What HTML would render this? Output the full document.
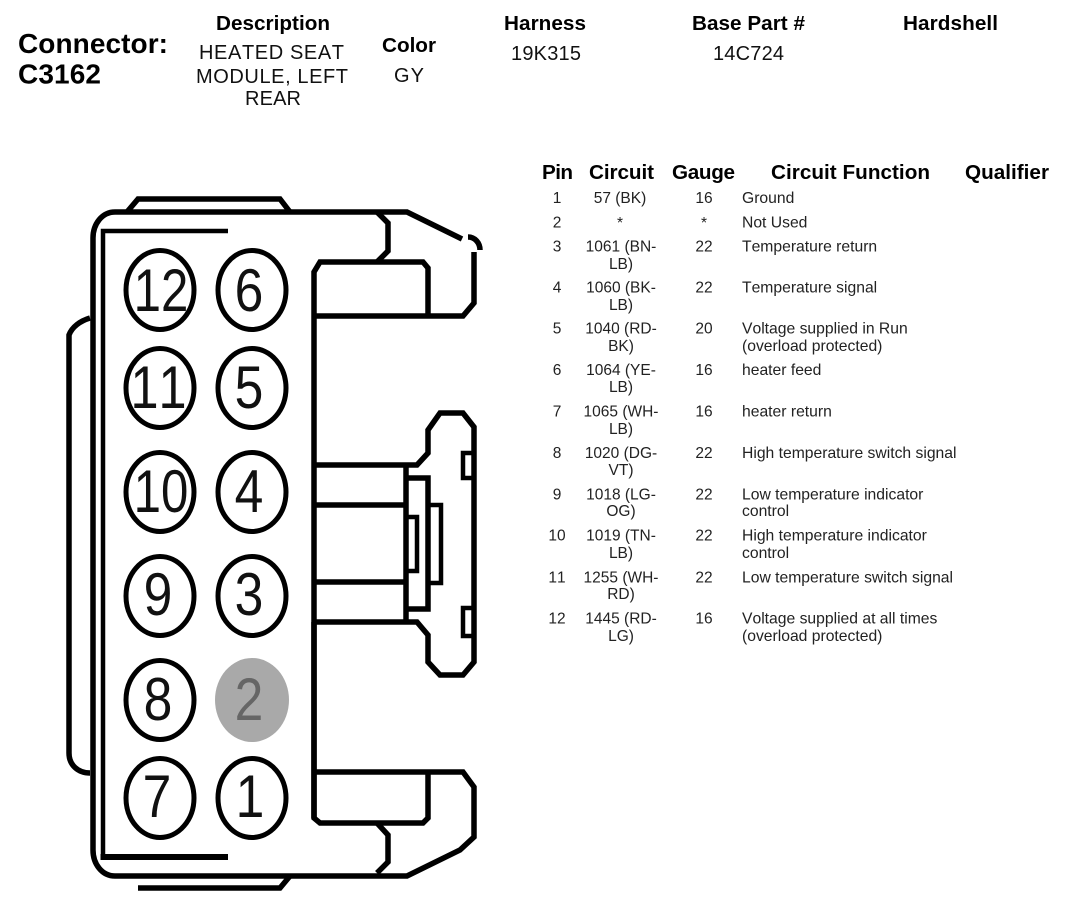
<!DOCTYPE html>
<html><head><meta charset="utf-8"><style>
html,body{margin:0;padding:0;background:#fff;width:1066px;height:908px;overflow:hidden}
svg{display:block}
text{font-family:"Liberation Sans",Arial,sans-serif;fill:#111;font-kerning:none}
.b{font-weight:bold;font-size:20.7px;fill:#000}
.h{font-size:20px}
.t{font-size:15.5px;fill:#222}
.f{font-size:15.7px;fill:#222}
.m{text-anchor:middle}
.d{font-size:60px;fill:#111;text-anchor:middle}
.l{fill:none;stroke:#000;stroke-width:5.5;stroke-linejoin:miter}
</style></head><body>
<svg width="1066" height="908" viewBox="0 0 1066 908" xmlns="http://www.w3.org/2000/svg">
<rect width="1066" height="908" fill="#fff"/>
<text class="b" x="18" y="53" style="font-size:28px" textLength="150">Connector:</text>
<text class="b" x="18" y="83.500" style="font-size:28px" textLength="83">C3162</text>
<text class="b" x="216" y="30" textLength="114">Description</text>
<text class="b" x="382" y="52" textLength="54">Color</text>
<text class="b" x="504" y="30" textLength="82">Harness</text>
<text class="b" x="692" y="30" textLength="113">Base Part #</text>
<text class="b" x="903" y="30" textLength="95">Hardshell</text>
<text class="h" x="199" y="59" textLength="145">HEATED SEAT</text>
<text class="h" x="196" y="83" textLength="152">MODULE, LEFT</text>
<text class="h" x="245" y="105" textLength="56">REAR</text>
<text class="h" x="394" y="82" textLength="30">GY</text>
<text class="h" x="511" y="60" textLength="70">19K315</text>
<text class="h" x="713" y="60" textLength="71">14C724</text>

<text class="b" x="542" y="179" textLength="31">Pin</text>
<text class="b" x="589" y="179" textLength="65">Circuit</text>
<text class="b" x="672" y="179" textLength="63">Gauge</text>
<text class="b" x="771" y="179" textLength="159">Circuit Function</text>
<text class="b" x="965" y="179" textLength="84">Qualifier</text>

<g>
<text class="t m" x="557" y="203">1</text><text class="t m" x="620" y="203">57 (BK)</text><text class="t m" x="704" y="203">16</text><text class="f" x="742" y="203">Ground</text>
<text class="t m" x="557" y="227.500">2</text><text class="t m" x="620" y="228">*</text><text class="t m" x="704" y="228">*</text><text class="f" x="742" y="227.500">Not Used</text>
<text class="t m" x="557" y="251.500">3</text><text class="t m" x="621" y="251.500">1061 (BN-</text><text class="t m" x="621" y="269">LB)</text><text class="t m" x="704" y="251.500">22</text><text class="f" x="742" y="251.500">Temperature return</text>
<text class="t m" x="557" y="292.500">4</text><text class="t m" x="621" y="292.500">1060 (BK-</text><text class="t m" x="621" y="310">LB)</text><text class="t m" x="704" y="292.500">22</text><text class="f" x="742" y="292.500">Temperature signal</text>
<text class="t m" x="557" y="333.500">5</text><text class="t m" x="621" y="333.500">1040 (RD-</text><text class="t m" x="621" y="351">BK)</text><text class="t m" x="704" y="333.500">20</text><text class="f" x="742" y="333.500">Voltage supplied in Run</text><text class="f" x="742" y="351">(overload protected)</text>
<text class="t m" x="557" y="375">6</text><text class="t m" x="621" y="375">1064 (YE-</text><text class="t m" x="621" y="392">LB)</text><text class="t m" x="704" y="375">16</text><text class="f" x="742" y="375">heater feed</text>
<text class="t m" x="557" y="416.500">7</text><text class="t m" x="621" y="416.500">1065 (WH-</text><text class="t m" x="621" y="434">LB)</text><text class="t m" x="704" y="416.500">16</text><text class="f" x="742" y="416.500">heater return</text>
<text class="t m" x="557" y="458">8</text><text class="t m" x="621" y="458">1020 (DG-</text><text class="t m" x="621" y="475">VT)</text><text class="t m" x="704" y="458">22</text><text class="f" x="742" y="458">High temperature switch signal</text>
<text class="t m" x="557" y="499.500">9</text><text class="t m" x="621" y="499.500">1018 (LG-</text><text class="t m" x="621" y="516">OG)</text><text class="t m" x="704" y="499.500">22</text><text class="f" x="742" y="499.500">Low temperature indicator</text><text class="f" x="742" y="516">control</text>
<text class="t m" x="557" y="540.500">10</text><text class="t m" x="621" y="540.500">1019 (TN-</text><text class="t m" x="621" y="558">LB)</text><text class="t m" x="704" y="540.500">22</text><text class="f" x="742" y="540.500">High temperature indicator</text><text class="f" x="742" y="558">control</text>
<text class="t m" x="557" y="582.500">11</text><text class="t m" x="621" y="582.500">1255 (WH-</text><text class="t m" x="621" y="599">RD)</text><text class="t m" x="704" y="582.500">22</text><text class="f" x="742" y="582.500">Low temperature switch signal</text>
<text class="t m" x="557" y="623.500">12</text><text class="t m" x="621" y="623.500">1445 (RD-</text><text class="t m" x="621" y="641">LG)</text><text class="t m" x="704" y="623.500">16</text><text class="f" x="742" y="623.500">Voltage supplied at all times</text><text class="f" x="742" y="641">(overload protected)</text>
</g>

<!-- connector outline -->
<path class="l" d="M127 212L138 199H280L290 212"/>
<path class="l" d="M462 239L407 212H115C102 212 93 224 93 238V850C93 864 102 876 115 876H407L460 850L474 837V787L463 772H314"/>
<path class="l" d="M468 237C475 237 480 243 480 250"/>
<path class="l" d="M474 252V303L463 316H314"/>
<path class="l" d="M377 212L388 223V251L377 262"/>
<path class="l" d="M314 818V272L320 262H423L428 268V316"/>
<path class="l" d="M314 622V818L320 823H423L428 818V772"/>
<path class="l" d="M377 823L388 835V862L377 873"/>
<path class="l" style="stroke-width:4.5" d="M228 231H103V857"/>
<path class="l" style="stroke-width:6" d="M100.500 857H228"/>
<path class="l" d="M90 318C80 321 72 327 69 335V753C69 765 78 773 90 773"/>
<path class="l" d="M290 876L280 888H138"/>
<!-- right latch -->
<path class="l" d="M314 465H417L428 453V430L440 413H463L474 427V662L463 675H440L428 662V635L417 622H314"/>
<path class="l" d="M314 505H406M314 582H406M406 465V622"/>
<path class="l" d="M406 478H428V609H406"/>
<path class="l" style="stroke-width:4.5" d="M406 517H417V571H406"/>
<path class="l" style="stroke-width:4.5" d="M428 505H441V583H428"/>
<path class="l" style="stroke-width:4.5" d="M474 453H463V478H474M474 608H463V636H474"/>

<!-- pins -->
<g fill="#fff" stroke="#000" stroke-width="5">
<ellipse cx="160" cy="290" rx="34" ry="39.5"/><ellipse cx="252" cy="290" rx="34" ry="39.5"/>
<ellipse cx="160" cy="388" rx="34" ry="39.5"/><ellipse cx="252" cy="388" rx="34" ry="39.5"/>
<ellipse cx="160" cy="492" rx="34" ry="39.5"/><ellipse cx="252" cy="492" rx="34" ry="39.5"/>
<ellipse cx="160" cy="596" rx="34" ry="39.5"/><ellipse cx="252" cy="596" rx="34" ry="39.5"/>
<ellipse cx="160" cy="700" rx="34" ry="39.5"/>
<ellipse cx="160" cy="798" rx="34" ry="39.5"/><ellipse cx="252" cy="798" rx="34" ry="39.5"/>
</g>
<ellipse cx="252" cy="700" rx="37" ry="42" fill="#a9a9a9"/>
<text class="d" transform="translate(161 311) scale(.82 1)">12</text>
<text class="d" transform="translate(249 311) scale(.86 1)">6</text>
<text class="d" transform="translate(158.500 408) scale(.84 1)">11</text>
<text class="d" transform="translate(249 408) scale(.86 1)">5</text>
<text class="d" transform="translate(161 512) scale(.82 1)">10</text>
<text class="d" transform="translate(249 512) scale(.86 1)">4</text>
<text class="d" transform="translate(158 615) scale(.86 1)">9</text>
<text class="d" transform="translate(249 615) scale(.86 1)">3</text>
<text class="d" transform="translate(158 720) scale(.86 1)">8</text>
<text class="d" style="fill:#666" transform="translate(249 720) scale(.86 1)">2</text>
<text class="d" transform="translate(157 817) scale(.86 1)">7</text>
<text class="d" transform="translate(250 817) scale(.86 1)">1</text>
</svg>
</body></html>
